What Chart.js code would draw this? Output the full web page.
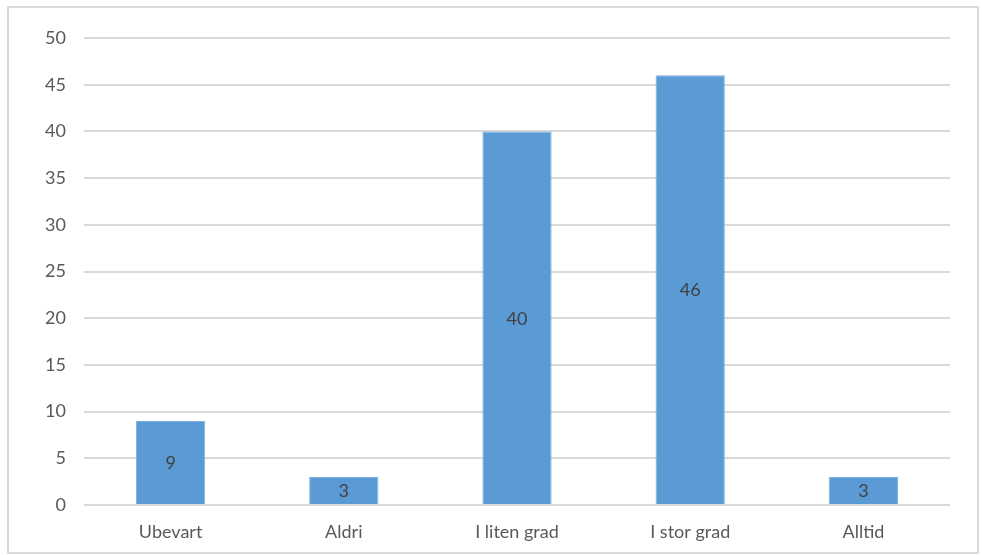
<!DOCTYPE html>
<html>
<head>
<meta charset="utf-8">
<script src="https://cdn.jsdelivr.net/npm/chart.js@4.4.0/dist/chart.umd.min.js"></script>
<style>
  html, body { margin: 0; padding: 0; background: #ffffff; }
  #wrap { position: relative; width: 982px; height: 555px; }
</style>
</head>
<body>
<div id="wrap"><canvas id="c" width="982" height="555"></canvas></div>
<script>
const categories = ["Ubevart", "Aldri", "I liten grad", "I stor grad", "Alltid"];
const values = [9, 3, 40, 46, 3];
const yTicks = [0, 5, 10, 15, 20, 25, 30, 35, 40, 45, 50];

const FONT = "Lato, 'Open Sans', sans-serif";

const frame = {
  id: 'frame',
  beforeDraw(chart) {
    const ctx = chart.ctx;
    ctx.save();
    ctx.strokeStyle = '#d9d9d9';
    ctx.lineWidth = 2;
    ctx.strokeRect(8, 7, 970, 546);
    ctx.restore();
  }
};

const barLabels = {
  id: 'barLabels',
  afterDatasetsDraw(chart) {
    const ctx = chart.ctx;
    const meta = chart.getDatasetMeta(0);
    ctx.save();
    ctx.fillStyle = '#404040';
    ctx.font = "18px " + FONT;
    ctx.textAlign = 'center';
    ctx.textBaseline = 'middle';
    meta.data.forEach((bar, i) => {
      const y = (bar.y + bar.base) / 2;
      ctx.fillText(String(values[i]), bar.x, y + 1);
    });
    ctx.restore();
  }
};

new Chart(document.getElementById('c'), {
  type: 'bar',
  data: {
    labels: categories,
    datasets: [{
      data: values,
      backgroundColor: '#5b9bd5',
      borderColor: '#7fb0de',
      borderWidth: 1,
      barPercentage: 0.4,
      categoryPercentage: 1.0
    }]
  },
  options: {
    responsive: false,
    animation: false,
    devicePixelRatio: 1,
    layout: { padding: { left: 0, top: 38, right: 32, bottom: 0 } },
    plugins: { legend: { display: false }, tooltip: { enabled: false } },
    scales: {
      x: {
        grid: { display: false, drawTicks: false },
        border: { display: false },
        ticks: { color: '#595959', font: { family: FONT, size: 18 }, padding: 16 },
        afterFit(s) { s.height = 50; }
      },
      y: {
        min: 0, max: 50,
        afterBuildTicks(s) { s.ticks = yTicks.map(v => ({ value: v })); },
        grid: { color: '#d9d9d9', lineWidth: 2, drawTicks: false },
        border: { display: false },
        ticks: { color: '#595959', font: { family: FONT, size: 18 }, padding: 18 },
        afterFit(s) { s.width = 84; }
      }
    }
  },
  plugins: [frame, barLabels]
});
</script>
</body>
</html>
